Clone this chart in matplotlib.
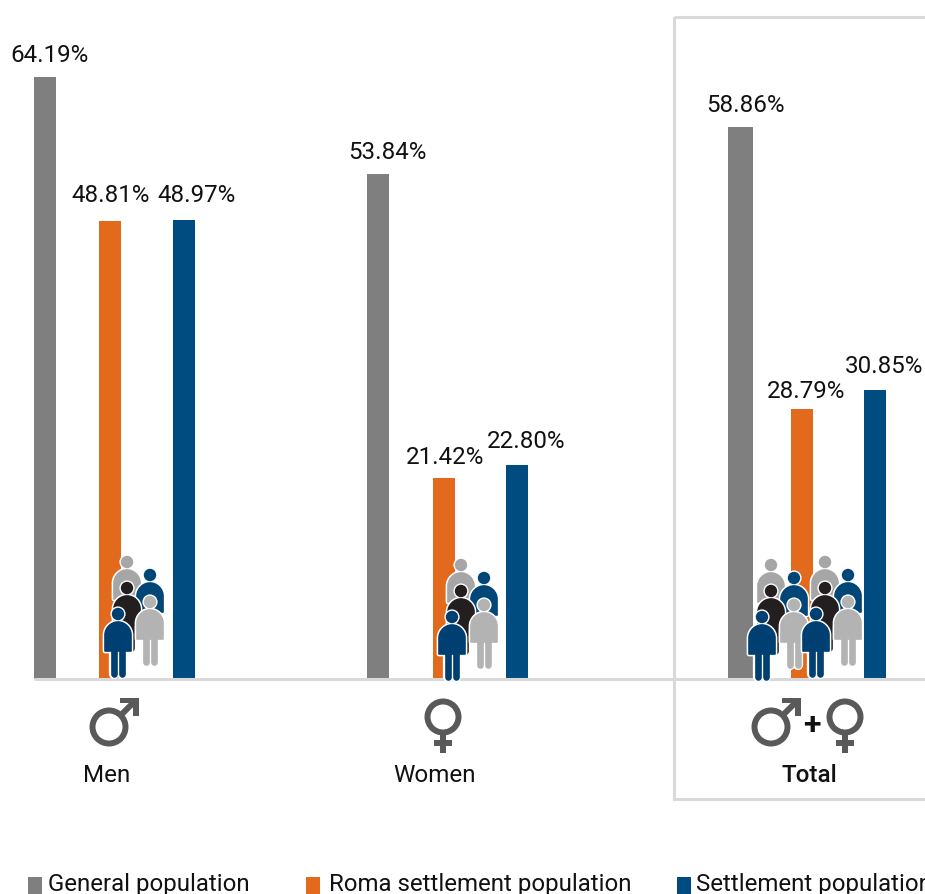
import matplotlib
matplotlib.use("Agg")
import matplotlib.pyplot as plt
from matplotlib.patches import Circle, PathPatch, Rectangle
from matplotlib.path import Path

plt.rcParams['font.family'] = ['Roboto', 'DejaVu Sans']

# Data
groups = ['Men', 'Women', 'Total']
series = ['General population', 'Roma settlement population', 'Settlement population']
general = [64.19, 53.84, 58.86]
roma = [48.81, 21.42, 28.79]
settlement = [48.97, 22.80, 30.85]

GRAY = '#7f7f7f'
ORANGE = '#e36a1c'
BLUE = '#004b7f'
LINE = '#d9d9d9'
ICON = '#595959'
colors = [GRAY, ORANGE, BLUE]

# left edge and width of each bar, in pixels
bar_left = [[34, 367, 728], [99, 433, 791], [173, 506, 864]]
bar_width = [[22, 22, 25], [22, 22, 22], [22, 22, 22]]
# label nudges, in pixels
label_dx = [[5, 9, 5], [1, 1, 4], [13, 9, 9]]
label_dy = [[22, 22, 21], [26, 21, 17], [24, 24, 23]]

fig = plt.figure(figsize=(9.25, 8.94), dpi=100)
ax = fig.add_axes([0, 0, 1, 1])
ax.set_xlim(0, 925)
scale = (679 - 77) / 64.19
ax.set_ylim(-(894 - 679) / scale, 679 / scale)
ax.axis('off')

for s, values in enumerate([general, roma, settlement]):
    ax.bar(bar_left[s], values, width=bar_width[s], align='edge', color=colors[s])
    for g, v in enumerate(values):
        cx = bar_left[s][g] + bar_width[s][g] / 2
        ax.annotate(f'{v:.2f}%', (cx, v), xytext=(label_dx[s][g], label_dy[s][g]),
                    textcoords='offset pixels', ha='center', va='center',
                    fontsize=17.4, color='#111111')

# overlay in pixel coordinates for frame, pictograms and legend
ov = fig.add_axes([0, 0, 1, 1])
ov.set_xlim(0, 925)
ov.set_ylim(894, 0)
ov.axis('off')
ov.patch.set_alpha(0)

ov.plot([34, 925], [679, 679], color=LINE, lw=2.2, solid_capstyle='butt', zorder=1)
ov.add_patch(Rectangle((674, 17), 300, 782, fill=False, ec=LINE, lw=2.2, zorder=1))

order = [3]


def person(x, y, color):
    # x, y is the middle of the head
    top = y + 8
    bottom = top + 29
    k = 7
    verts = [(x - 13, bottom), (x - 13, top + 13), (x - 13, top + 13 - k), (x - k, top), (x, top),
             (x + k, top), (x + 13, top + 13 - k), (x + 13, top + 13), (x + 13, bottom),
             (x - 13, bottom)]
    codes = [Path.MOVETO, Path.LINETO, Path.CURVE4, Path.CURVE4, Path.CURVE4,
             Path.CURVE4, Path.CURVE4, Path.CURVE4, Path.LINETO, Path.CLOSEPOLY]
    body = Path(verts, codes)
    legs = [x - 4, x + 4]
    leg_end = y + 60
    z = order[0]
    order[0] += 1
    # white outline first, then the figure
    ov.add_patch(Circle((x, y), 7.6, fc='white', ec='none', zorder=z))
    ov.add_patch(PathPatch(body, fc='white', ec='white', lw=3.4, joinstyle='round', zorder=z))
    for lx in legs:
        ov.plot([lx, lx], [bottom - 2, leg_end], color='white', lw=7.4,
                solid_capstyle='round', zorder=z)
    for lx in legs:
        ov.plot([lx, lx], [bottom - 2, leg_end], color=color, lw=4.8,
                solid_capstyle='round', zorder=z + 0.5)
    ov.add_patch(PathPatch(body, fc=color, ec=color, lw=1.2, joinstyle='round', zorder=z + 0.5))
    ov.add_patch(Circle((x, y), 6.2, fc=color, ec='none', zorder=z + 0.5))


def crowd(dx, dy):
    person(127 + dx, 562 + dy, '#a6a6a6')
    person(150 + dx, 575 + dy, '#004677')
    person(127 + dx, 588 + dy, '#231f20')
    person(150 + dx, 602 + dy, '#b3b3b3')
    person(118 + dx, 614 + dy, '#003f72')


crowd(0, 0)
crowd(334, 3)
crowd(644, 3)
crowd(698, 0)


def male(x, y):
    ov.add_patch(Circle((x, y), 16.5, fc='none', ec=ICON, lw=4.3))
    ov.plot([x + 12, x + 26], [y - 12, y - 26], color=ICON, lw=4.3, solid_capstyle='butt')
    ov.fill([x + 11, x + 29.5, x + 29.5, x + 24, x + 24, x + 11],
            [y - 29.5, y - 29.5, y - 11, y - 11, y - 24, y - 24], color=ICON, lw=0)


def female(x, y):
    ov.add_patch(Circle((x, y), 15.5, fc='none', ec=ICON, lw=4.3))
    ov.plot([x, x], [y + 17, y + 36], color=ICON, lw=4.3, solid_capstyle='butt')
    ov.plot([x - 9, x + 9], [y + 26, y + 26], color=ICON, lw=4.3, solid_capstyle='butt')


male(109, 727)
female(443, 717)
male(771, 727)
female(845, 717)
ov.text(812, 725, '+', ha='center', va='center', fontsize=23, fontweight='bold', color='#111111')

for name, x, w in zip(groups, [107, 435, 809], ['normal', 'normal', 500]):
    ov.text(x, 775, name, ha='center', va='center', fontsize=17.4, fontweight=w, color='#111111')

legend_x = [28, 306, 677]
legend_text_x = [48, 329, 696]
for s, name in enumerate(series):
    ov.add_patch(Rectangle((legend_x[s], 877), 14, 17, fc=colors[s], ec='none'))
    ov.text(legend_text_x[s], 891, name, ha='left', va='baseline', fontsize=17.3, color='#111111')

fig.savefig('out.png', dpi=100)
